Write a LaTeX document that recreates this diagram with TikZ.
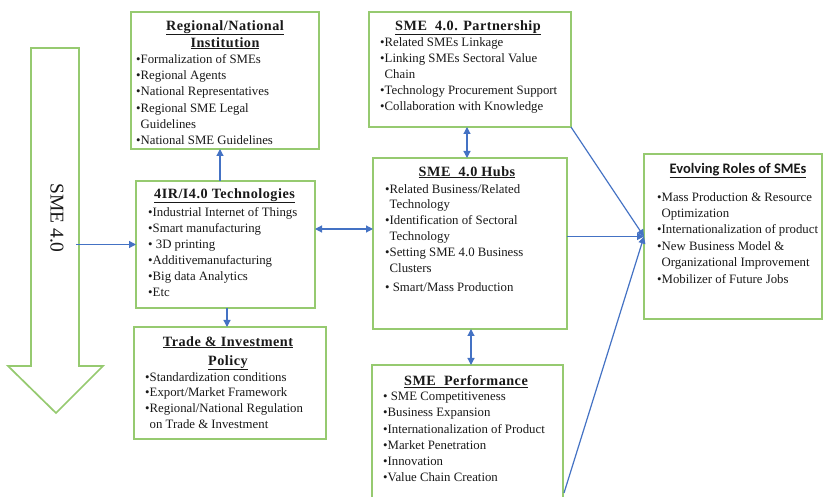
\documentclass[tikz,border=0pt]{standalone}
\usepackage{fontspec}
\setmainfont{Liberation Serif}
\newfontfamily\calibrifont{Carlito}
\usetikzlibrary{arrows.meta}
\definecolor{boxgreen}{RGB}{150,202,112}
\definecolor{linkblue}{RGB}{68,114,196}
\definecolor{ink}{RGB}{25,25,25}
\newcommand{\ind}{\phantom{•}}
\begin{document}
\begin{tikzpicture}[x=1pt,y=-1pt,
  box/.style={draw=boxgreen, line width=1.7pt, rectangle, inner sep=0pt, outer sep=0pt},
  body/.style={font=\fontsize{12.8}{16.3}\selectfont, align=left, inner sep=0pt, anchor=north west, text=ink},
  ttl/.style={font=\fontsize{14.2}{17}\selectfont\bfseries\addfontfeature{LetterSpace=3.5}, align=center, inner sep=0pt, anchor=north, text=ink},
  conn/.style={draw=linkblue, line width=1.2pt, -{Triangle[length=7pt,width=7pt]}},
  dconn/.style={draw=linkblue, line width=1.2pt, {Triangle[length=7pt,width=7pt]}-{Triangle[length=7pt,width=7pt]}}]
\useasboundingbox (0,0) rectangle (823,497);
\fill[white] (0,0) rectangle (823,497);

% big arrow
\draw[boxgreen, line width=1.7pt, line join=miter] (31,48) -- (79,48) -- (79,366) -- (103,366) -- (56,413) -- (8,366) -- (31,366) -- cycle;
\node[rotate=-90, font=\fontsize{19.5}{22}\selectfont, text=ink, inner sep=0pt] (sme) at (57,218) {SME 4.0};
\coordinate (smeout) at (76,244.5);

% boxes
\node[box, minimum width=188pt, minimum height=137pt] (reg) at (225,80.5) {};
\node[box, minimum width=179pt, minimum height=127pt] (tech) at (225.5,244.5) {};
\node[box, minimum width=192pt, minimum height=112pt] (trade) at (230,383) {};
\node[box, minimum width=202pt, minimum height=115pt] (part) at (470,69.5) {};
\node[box, minimum width=194pt, minimum height=171pt] (hubs) at (470,243.5) {};
\node[box, minimum width=191pt, minimum height=137pt] (perf) at (467.5,433.5) {};
\node[box, minimum width=178pt, minimum height=165pt] (evo) at (733,236.5) {};

% titles
\node[ttl] (regT) at (225,20) {\underline{Regional/National}\\[0pt]\underline{Institution}};
\node[ttl] (techT) at (224.5,188) {\underline{4IR/I4.0 Technologies}};
\node[ttl, font=\fontsize{14.2}{19}\selectfont\bfseries\addfontfeature{LetterSpace=3.5}] (tradeT) at (228,336) {\underline{Trade \& Investment}\\\underline{Policy}};
\node[ttl] (partT) at (468,20) {\underline{SME\ \ 4.0. Partnership}};
\node[ttl] (hubsT) at (467,166) {\underline{SME\ \ 4.0 Hubs}};
\node[ttl] (perfT) at (466,375) {\underline{SME\ \ Performance}};
\node[ttl, font=\fontsize{14.5}{17}\selectfont\calibrifont\bfseries] (evoT) at (738,163) {\underline{Evolving Roles of SMEs}};

% bodies
\node[body] (regB) at (136,54) {•Formalization of SMEs\\•Regional Agents\\•National Representatives\\•Regional SME Legal\\\ind Guidelines\\•National SME Guidelines};
\node[body, font=\fontsize{12.8}{16}\selectfont] (techB) at (148,207) {•Industrial Internet of Things\\•Smart manufacturing\\• 3D printing\\•Additivemanufacturing\\•Big data Analytics\\•Etc};
\node[body, font=\fontsize{12.8}{15.7}\selectfont] (tradeB) at (145,372) {•Standardization conditions\\•Export/Market Framework\\•Regional/National Regulation\\\ind on Trade \& Investment};
\node[body, font=\fontsize{12.8}{16}\selectfont] (partB) at (380,37) {•Related SMEs Linkage\\•Linking SMEs Sectoral Value\\\ind Chain\\•Technology Procurement Support\\•Collaboration with Knowledge};
\node[body, font=\fontsize{12.8}{15.9}\selectfont] (hubsB) at (385,184) {•Related Business/Related\\\ind Technology\\•Identification of Sectoral\\\ind Technology\\•Setting SME 4.0 Business\\\ind Clusters\\[3pt]• Smart/Mass Production};
\node[body, font=\fontsize{12.8}{16.2}\selectfont] (perfB) at (383,392) {• SME Competitiveness\\•Business Expansion\\•Internationalization of Product\\•Market Penetration\\•Innovation\\•Value Chain Creation};
\node[body, font=\fontsize{12.8}{16.4}\selectfont] (evoB) at (657,192) {•Mass Production \& Resource\\\ind Optimization\\•Internationalization of product\\•New Business Model \&\\\ind Organizational Improvement\\•Mobilizer of Future Jobs};

% helper coordinates
\coordinate (regx) at (220,0);
\coordinate (trx) at (227,0);
\coordinate (hy) at (0,229);
\coordinate (px) at (467,0);
\coordinate (qx) at (471,0);
\coordinate (pfo) at (564,493);

% connectors
\draw[conn] (smeout) -- (smeout -| tech.west);
\draw[conn] (tech.north -| regx) -- (reg.south -| regx);
\draw[conn] (tech.south -| trx) -- (trade.north -| trx);
\draw[dconn] (tech.east |- hy) -- (hubs.west |- hy);
\draw[dconn] (part.south -| px) -- (hubs.north -| px);
\draw[dconn] (hubs.south -| qx) -- (perf.north -| qx);
\draw[conn] (part.south east) -- (evo.west);
\draw[conn] (hubs.east |- evo.west) -- (evo.west);
\draw[conn] (pfo) -- (evo.west);
\end{tikzpicture}
\end{document}
